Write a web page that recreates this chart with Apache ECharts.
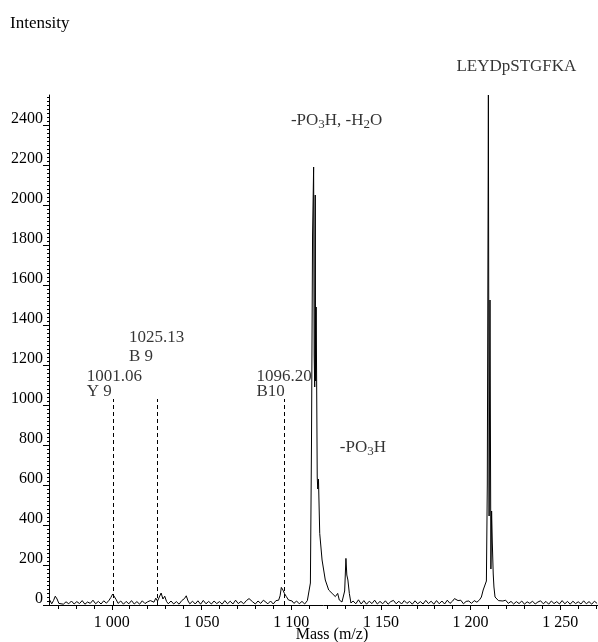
<!DOCTYPE html>
<html><head><meta charset="utf-8">
<script src="https://cdn.jsdelivr.net/npm/echarts@6/dist/echarts.min.js"></script>
<style>html,body{margin:0;padding:0;background:#fff}#c{width:598px;height:642px}</style>
</head><body><div id="c"></div>
<script>
// ---- data ----
const mz = [
965.5,966.5,967.5,968.5,969.5,970.5,971.5,973,974.5,976,977.5,979,980.5,982,983.5,985,986.5,988,989.5,991,992.5,994,995.5,997,998.5,999.5,1000.5,1001.5,1002.5,1003.5,
1005,1006.5,1008,1009.5,1011,1012.5,1014,1015.5,1017,1018.5,1020,1021.5,1022.5,1023.5,1024.5,1025.5,1026.5,1027.5,1028.5,1029.5,1030.5,1031.5,1033,1034.5,1036,1037.5,1039,1040.5,1041.5,1042.5,
1043.5,1045,1046.5,1048,1049.5,1051,1052.5,1054,1055.5,1057,1058.5,1060,1061.5,1063,1064.5,1066,1067.5,1069,1070.5,1072,1073.5,1075,1076.5,1077.5,1078.5,1080,1081.5,1083,1084.5,1085.5,
1087,1088.5,1090,1091.5,1093,1093.8,1094.5,1095.0,1095.4,1096.2,1097.3,1098.5,1099.5,1100.5,1101.5,1103,1104.5,1106,1107.5,1109,1110.0,1110.7,1111.3,1111.9,1112.5,1112.8,1113.1,1113.4,1113.6,1113.9,
1114.2,1114.5,1114.8,1115.2,1115.9,1117.2,1119.0,1120.9,1122.8,1124.6,1125.9,1126.8,1128.3,1129.3,1129.8,1130.5,1131.0,1131.6,1132.4,1133.3,1134.5,1136,1137.5,1139,1140.5,1142,1143.5,1145,1146.5,1148,
1149.5,1151,1152.5,1154,1155.5,1157,1158.5,1160,1161.5,1163,1164.5,1166,1167.5,1169,1170.5,1172,1173.5,1175,1176.5,1178,1179.5,1181,1182.5,1184,1185.5,1187,1188.5,1190,1191,1192,
1193,1194.5,1196,1197.5,1199,1200.5,1202,1203.5,1205,1206,1207,1208,1208.8,1209.3,1209.9,1210.3,1210.8,1211.3,1211.7,1212.1,1212.6,1213.0,1213.6,1214.5,1215.5,1216.5,1218,1219.5,1221,1222.5,
1224,1225.5,1227,1228.5,1230,1231.5,1233,1234.5,1236,1237.5,1239,1240.5,1242,1243.5,1245,1246.5,1248,1249.5,1251,1252.5,1254,1255.5,1257,1258.5,1260,1261.5,1263,1264.5,1266,1267.5,1269,1270.5
];
const intensity = [
24,6,22,44,30,8,18,4,16,6,20,5,17,7,22,4,15,8,24,6,18,5,21,9,24,38,55,46,26,8,
20,4,18,6,22,5,17,4,21,7,16,22,30,14,34,20,40,60,30,44,18,6,20,5,17,4,22,32,46,20,
6,19,5,21,4,23,6,18,5,20,7,17,4,22,6,19,5,24,7,18,6,22,32,36,16,5,20,8,24,18,
6,20,5,22,24,46,88,80,75,58,42,25,30,20,8,20,6,18,5,22,25,110,800,1850,2190,1250,1090,2050,1120,1490,
1090,640,580,630,358,225,125,75,58,42,58,25,15,14,70,233,150,125,58,10,20,6,26,5,22,4,19,7,24,5,
18,6,21,4,17,23,6,19,5,22,8,18,4,21,6,17,5,23,7,19,4,22,6,20,5,24,8,20,32,42,
22,24,6,18,20,8,22,14,26,40,75,85,120,600,2550,445,1525,180,470,310,155,90,40,30,22,32,20,24,8,18,
5,17,7,20,4,16,8,19,5,15,21,6,18,4,20,7,17,5,22,6,18,4,19,7,16,5,21,6,17,4,19,8
];
const fragmentMz = [1001.06, 1025.13, 1096.20];
const fragmentIons = ['Y 9', 'B 9', 'B10'];
const fragmentMarkerTop = [1030, 1030, 1030];
const peakLabelText = ['{n|-PO}{s|3}{n|H, -H}{s|2}{n|O}', '{n|-PO}{s|3}{n|H}', '{n|LEYDpSTGFKA}'];
const peakLabelMz = [1112.5, 1130.5, 1209.9];
const peakLabelIntensity = [2190, 233, 2550];
const xTickValues = [1000, 1050, 1100, 1150, 1200, 1250];
const yTickValues = [0, 200, 400, 600, 800, 1000, 1200, 1400, 1600, 1800, 2000, 2200, 2400];

// ---- chart ----
const FONT = '"Liberation Serif", "Times New Roman", serif';
const X_MIN = 965, X_MAX = 1271, Y_MAX = 2550;
const xMinor = [], yMinor = [];
for (let v = 970; v <= 1270; v += 10) if (v % 50) xMinor.push(v);
for (let v = 20; v <= 2540; v += 20) if (v % 200) yMinor.push(v);

const fmtThousands = v => String(v).replace(/\B(?=(\d{3})+(?!\d))/g, ' ');

const fragOffsets = [[-27, 0], [-28, -33], [-28, 0]];
const fragLineHeights = [15, 19, 15];
const peakOffsets = [[23, -36], [17, -100], [28, -19.5]];

const chart = echarts.init(document.getElementById('c'), null, {renderer: 'canvas'});
chart.setOption({
  animation: false,
  backgroundColor: '#fff',
  textStyle: {fontFamily: FONT, color: '#000'},
  title: {text: 'Intensity', left: 10, top: 15, padding: 0, textStyle: {fontFamily: FONT, fontSize: 17, fontWeight: 'normal', color: '#000'}},
  grid: {left: 49, right: 0, top: 95, bottom: 37, containLabel: false, outerBoundsMode: 'none'},
  xAxis: [{
    type: 'value', min: X_MIN, max: X_MAX, position: 'bottom', offset: 0,
    name: 'Mass (m/z)', nameLocation: 'middle', nameGap: 22, nameMoveOverlap: false,
    nameTextStyle: {fontFamily: FONT, fontSize: 16, color: '#000', padding: [0, 0, 0, 17]},
    axisLine: {lineStyle: {color: '#000', width: 1}},
    axisTick: {show: true, inside: false, length: 5, customValues: xTickValues, lineStyle: {color: '#000'}},
    axisLabel: {customValues: xTickValues, formatter: fmtThousands, margin: 10, fontFamily: FONT, fontSize: 16, color: '#000'},
    splitLine: {show: false}
  }, {
    type: 'value', min: X_MIN, max: X_MAX, position: 'bottom', offset: 0,
    axisLine: {show: false},
    axisTick: {show: true, inside: false, length: 4, customValues: xMinor, lineStyle: {color: '#000'}},
    axisLabel: {show: false}, splitLine: {show: false}
  }],
  yAxis: [{
    type: 'value', min: 0, max: Y_MAX, position: 'left', offset: 0,
    axisLine: {show: true, lineStyle: {color: '#000', width: 1}},
    axisTick: {show: true, inside: false, length: 6, customValues: yTickValues, lineStyle: {color: '#000'}},
    axisLabel: {customValues: yTickValues, formatter: v => String(v), margin: 6, fontFamily: FONT, fontSize: 16, color: '#000', verticalAlign: 'bottom', lineHeight: 12},
    splitLine: {show: false}
  }, {
    type: 'value', min: 0, max: Y_MAX, position: 'left', offset: 0,
    axisLine: {show: false},
    axisTick: {show: true, inside: false, length: 2, customValues: yMinor, lineStyle: {color: '#000'}},
    axisLabel: {show: false}, splitLine: {show: false}
  }],
  series: [{
    type: 'line', name: 'spectrum', xAxisIndex: 0, yAxisIndex: 0,
    data: mz.map((m, i) => [m, intensity[i]]),
    symbol: 'none', lineStyle: {color: '#000', width: 1}, silent: true,
    markLine: {
      silent: true, symbol: ['none', 'none'], animation: false,
      label: {show: false},
      lineStyle: {color: '#000', width: 1, type: [4, 3]},
      data: fragmentMz.map((m, i) => [{coord: [m, 0]}, {coord: [m, fragmentMarkerTop[i]]}])
    }
  }, {
    type: 'scatter', name: 'fragments', symbolSize: 0, silent: true,
    data: fragmentMz.map((m, i) => ({
      value: [m, fragmentMarkerTop[i]],
      label: {offset: fragOffsets[i], lineHeight: fragLineHeights[i]}
    })),
    label: {
      show: true, position: 'top', distance: 0, align: 'left',
      fontFamily: FONT, fontSize: 17, color: '#000',
      formatter: p => p.value[0].toFixed(2) + '\n' + fragmentIons[p.dataIndex]
    }
  }, {
    type: 'scatter', name: 'peaks', symbolSize: 0, silent: true,
    data: peakLabelMz.map((m, i) => ({value: [m, peakLabelIntensity[i]], label: {offset: peakOffsets[i]}})),
    label: {
      show: true, position: 'top', distance: 0, align: 'center',
      formatter: p => peakLabelText[p.dataIndex],
      rich: {
        n: {fontFamily: FONT, fontSize: 17, lineHeight: 17, color: '#000'},
        s: {fontFamily: FONT, fontSize: 13, padding: [8, 0, 0, 0], color: '#000'}
      }
    }
  }]
});
</script></body></html>
